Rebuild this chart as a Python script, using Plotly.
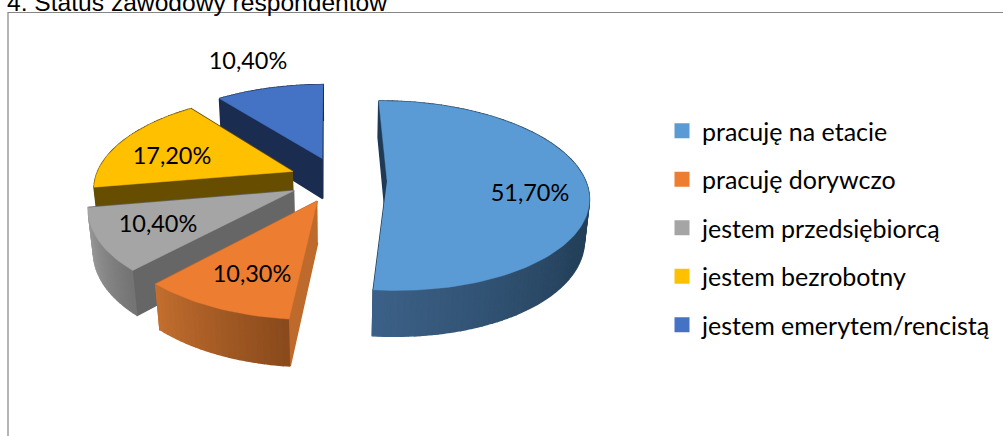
import math
import plotly.graph_objects as go

# --- data ---
categories = ["pracuję na etacie", "pracuję dorywczo", "jestem przedsiębiorcą",
              "jestem bezrobotny", "jestem emerytem/rencistą"]
values = [51.7, 10.3, 10.4, 17.2, 10.4]

# --- style ---
top_colors = ["#5B9BD5", "#ED7D31", "#A5A5A5", "#FFC000", "#4472C4"]
radial_colors = ["#1F3A54", "#BE6A2C", "#666666", "#664D00", "#1A2C50"]
arc_start = ["#24405A", "#8A4A1C", "#747474", "#664D00", "#1A2C50"]
arc_end = ["#3C6188", "#C26E2E", "#A2A2A2", "#664D00", "#1A2C50"]
label_pos = [(530, 195), (252, 276), (158, 226), (172, 158), (248, 63)]

W, H = 1003, 436
CX, CY = 338, 179.5     # projected pie centre
R, DEPTH = 198, 47      # radius and thickness
EXPLODE = 49
ROT = -0.5              # first slice angle, degrees
ELEV = math.radians(27.7)
FOCAL = 1100


def project(x, y, z):
    v = y * math.sin(ELEV) + z * math.cos(ELEV)
    w = y * math.cos(ELEV) - z * math.sin(ELEV)
    s = FOCAL / (FOCAL + w)
    return CX + x * s, CY - v * s, w


def hex2rgb(c):
    return [int(c[i:i + 2], 16) for i in (1, 3, 5)]


def mix(a, b, t):
    ca, cb = hex2rgb(a), hex2rgb(b)
    return "rgb(%d,%d,%d)" % tuple(round(p + (q - p) * t) for p, q in zip(ca, cb))


def poly(points, color, width=1.0):
    return go.Scatter(x=[p[0] for p in points], y=[p[1] for p in points],
                      mode="lines", fill="toself", fillcolor=color,
                      line=dict(color=color, width=width),
                      hoverinfo="skip", showlegend=False)


fig = go.Figure()
total = sum(values)
start = ROT
slices = []
for i, val in enumerate(values):
    sweep = val / total * 360
    slices.append((i, start, start + sweep))
    start += sweep


# far slices are painted first
def slice_depth(s):
    mid = math.radians((s[1] + s[2]) / 2)
    return -math.cos(mid)


for i, a0, a1 in sorted(slices, key=slice_depth):
    mid = math.radians((a0 + a1) / 2)
    ox, oy = EXPLODE * math.sin(mid), EXPLODE * math.cos(mid)
    n = max(12, int((a1 - a0) / 1.5))
    angles = [math.radians(a0 + (a1 - a0) * k / n) for k in range(n + 1)]
    rim = [(ox + R * math.sin(a), oy + R * math.cos(a)) for a in angles]
    faces = []
    for edge in (rim[0], rim[-1]):
        quad = [project(ox, oy, 0), project(*edge, 0), project(*edge, -DEPTH), project(ox, oy, -DEPTH)]
        faces.append((sum(p[2] for p in quad) / 4, quad, radial_colors[i]))
    for k in range(n):
        quad = [project(*rim[k], 0), project(*rim[k + 1], 0),
                project(*rim[k + 1], -DEPTH), project(*rim[k], -DEPTH)]
        t = min(1.0, max(0.0, (math.degrees(angles[k]) - 120) / 66)) if i == 0 else k / (n - 1)
        faces.append((sum(p[2] for p in quad) / 4, quad, mix(arc_start[i], arc_end[i], t)))
    for _, quad, color in sorted(faces, key=lambda f: -f[0]):
        fig.add_trace(poly(quad, color, 1.5))
    top = [project(ox, oy, 0)] + [project(*p, 0) for p in rim]
    fig.add_trace(poly(top, top_colors[i], 0.5))

# value labels
fig.add_trace(go.Scatter(
    x=[p[0] for p in label_pos], y=[p[1] for p in label_pos],
    text=[f"{v:.2f}%".replace(".", ",") for v in values],
    mode="text", textposition="middle center",
    textfont=dict(family="Lato", size=23.5, color="#000000"),
    hoverinfo="skip", showlegend=False))

# legend
for name, color in zip(categories, top_colors):
    fig.add_trace(go.Scatter(x=[None], y=[None], mode="markers", name=name, legendgroup=name,
                             marker=dict(symbol="square", size=15, color=color)))

fig.update_layout(
    width=W, height=H, autosize=False,
    margin=dict(l=0, r=0, t=0, b=0),
    paper_bgcolor="white", plot_bgcolor="white",
    title=dict(text="4. Status zawodowy respondentów", x=7 / W, xanchor="left",
               y=1 - 11 / H, yanchor="bottom",
               font=dict(family="Liberation Sans", size=24.6, color="#000000")),
    xaxis=dict(range=[0, W], visible=False, fixedrange=True),
    yaxis=dict(range=[H, 0], visible=False, fixedrange=True),
    legend=dict(x=662 / W, xanchor="left", y=1 - 108 / H, yanchor="top",
                font=dict(family="Lato", size=25, color="#000000"),
                tracegroupgap=13, bgcolor="rgba(0,0,0,0)", borderwidth=0,
                traceorder="grouped"),
    shapes=[dict(type="rect", xref="x", yref="y", x0=8, y0=12.5, x1=1020, y1=445,
                 line=dict(color="#868686", width=1.2), layer="below")],
)

fig.write_html("out.html", config={"displayModeBar": False},
               post_script="document.body.style.margin='0';document.body.style.overflow='hidden';")
